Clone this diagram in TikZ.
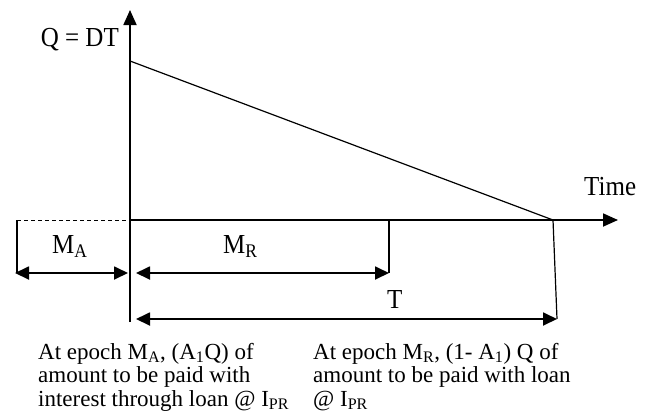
\documentclass[tikz,border=0pt]{standalone}
\usepackage{graphicx}
\usepackage{fontspec}
\setmainfont{Liberation Serif}
\usetikzlibrary{arrows.meta}
\newcommand\vstretch[1]{\scalebox{1}[1.1]{#1}}
\begin{document}
\begin{tikzpicture}[x=1pt,y=-1pt,
  axis/.style={line width=1.8pt,-{Triangle[length=15pt,width=13pt]}},
  dim/.style={line width=1.8pt,{Triangle[length=14pt,width=13pt]}-{Triangle[length=14pt,width=13pt]}},
  thinline/.style={line width=1.2pt},
  lbl/.style={font=\fontsize{25}{28}\selectfont,inner sep=0pt,anchor=base west},
  txt/.style={font={\fontsize{23}{23.5}\selectfont\lineskiplimit=-100pt},align=left,inner sep=0pt,anchor=base west}]
\useasboundingbox (0,0) rectangle (655,413);
% key points
\coordinate (O) at (130,220);
\coordinate (ytop) at (130,10);
\coordinate (ybot) at (130,322);
\coordinate (xend) at (618,220);
\coordinate (q0) at (130,61);
\coordinate (tend) at (553,220);
\coordinate (da) at (17,220);
\coordinate (dab) at (17,273);
\coordinate (mal) at (15,273);
\coordinate (mar) at (128,273);
\coordinate (mrl) at (136,273);
\coordinate (mrr) at (389,273);
\coordinate (mrt) at (389,220);
\coordinate (tl) at (136,319);
\coordinate (tr) at (557,319);
% axes
\draw[axis] (ybot) -- (ytop);
\draw[axis] (O) -- (xend);
% inventory line
\draw[thinline] (q0) -- (tend);
% dashed extension and left tick
\draw[line width=1pt,dash pattern=on 4pt off 3pt] (da) -- (O);
\draw[thinline] (da) -- (dab);
% ticks
\draw[thinline] (mrt) -- (mrr);
\draw[thinline] (tend) -- (tr);
% dimension arrows
\draw[dim] (mal) -- (mar);
\draw[dim] (mrl) -- (mrr);
\draw[dim] (tl) -- (tr);
% labels
\node[lbl,anchor=base east] (qdt) at (119,46) {\vstretch{Q = DT}};
\node[lbl] (time) at (584,195) {\vstretch{Time}};
\node[lbl] (ma) at (52,253) {\vstretch{M\textsubscript{A}}};
\node[lbl] (mr) at (223,253) {\vstretch{M\textsubscript{R}}};
\node[lbl] (tlab) at (387,308) {\vstretch{T}};
% text blocks
\node[txt] (ta) at (38,406) {At epoch M\textsubscript{A}, (A\textsubscript{1}Q) of\\
  amount to be paid with\\
  interest through loan @ I\textsubscript{PR}};
\node[txt] (tb) at (313,406) {At epoch M\textsubscript{R}, (1- A\textsubscript{1}) Q of\\
  amount to be paid with loan\\
  @ I\textsubscript{PR}};
\end{tikzpicture}
\end{document}
